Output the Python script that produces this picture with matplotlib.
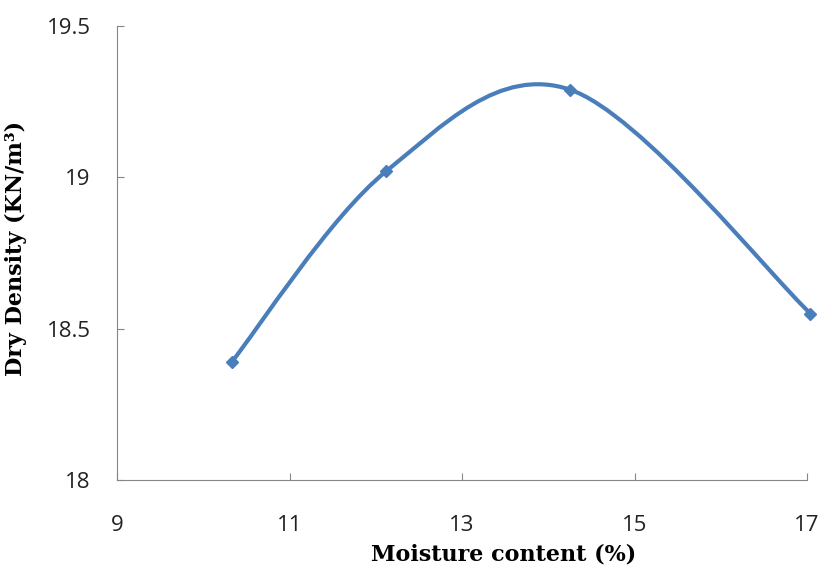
import matplotlib.pyplot as plt
from matplotlib.path import Path
from matplotlib.patches import PathPatch

# 含水率与干密度
moisture = [10.33, 12.12, 14.25, 17.04]
dry_density = [18.39, 19.02, 19.29, 18.55]
x_ticks = [9, 11, 13, 15, 17]
y_ticks = [18, 18.5, 19, 19.5]

blue = '#4a7ebb'
grey = '#868686'

fig = plt.figure(figsize=(8.21, 5.66), dpi=100)
ax = fig.add_axes([0.1425, 0.152, 0.8405, 0.802])

# Excel风格平滑曲线 (Bezier控制点)
pts = list(zip(moisture, dry_density))
ext = [pts[0]] + pts + [pts[-1]]
verts = [pts[0]]
codes = [Path.MOVETO]
for i in range(1, len(ext) - 2):
    p0, p1, p2, p3 = ext[i - 1], ext[i], ext[i + 1], ext[i + 2]
    c1 = (p1[0] + (p2[0] - p0[0]) / 6, p1[1] + (p2[1] - p0[1]) / 6)
    c2 = (p2[0] - (p3[0] - p1[0]) / 6, p2[1] - (p3[1] - p1[1]) / 6)
    verts += [c1, c2, p2]
    codes += [Path.CURVE4] * 3
ax.add_patch(PathPatch(Path(verts, codes), fill=False, edgecolor=blue,
                       lw=3, capstyle='round', zorder=3, clip_on=False))
ax.plot(moisture, dry_density, linestyle='none', marker='D', ms=6,
        color=blue, zorder=4, clip_on=False)

ax.set_xlim(9, 17)
ax.set_ylim(18, 19.5)
ax.set_xticks(x_ticks)
ax.set_yticks(y_ticks)
ax.set_yticklabels(['18', '18.5', '19', '19.5'])

ax.spines['top'].set_visible(False)
ax.spines['right'].set_visible(False)
ax.spines['left'].set_color(grey)
ax.spines['bottom'].set_color(grey)
ax.tick_params(direction='in', length=5, color=grey, labelsize=16,
               labelcolor='#222222')
ax.tick_params(axis='x', pad=25)
ax.tick_params(axis='y', pad=19)
for lab in ax.get_xticklabels() + ax.get_yticklabels():
    lab.set_fontfamily('Open Sans')

ax.set_xlabel('Moisture content (%)', fontfamily='DejaVu Serif',
              fontweight='bold', fontsize=16)
ax.set_ylabel('Dry Density (KN/m³)', fontfamily='DejaVu Serif',
              fontweight='bold', fontsize=16)
ax.xaxis.set_label_coords(0.56, -0.14)
ax.yaxis.set_label_coords(-0.13, 0.51)

fig.savefig('out.png', dpi=100)
